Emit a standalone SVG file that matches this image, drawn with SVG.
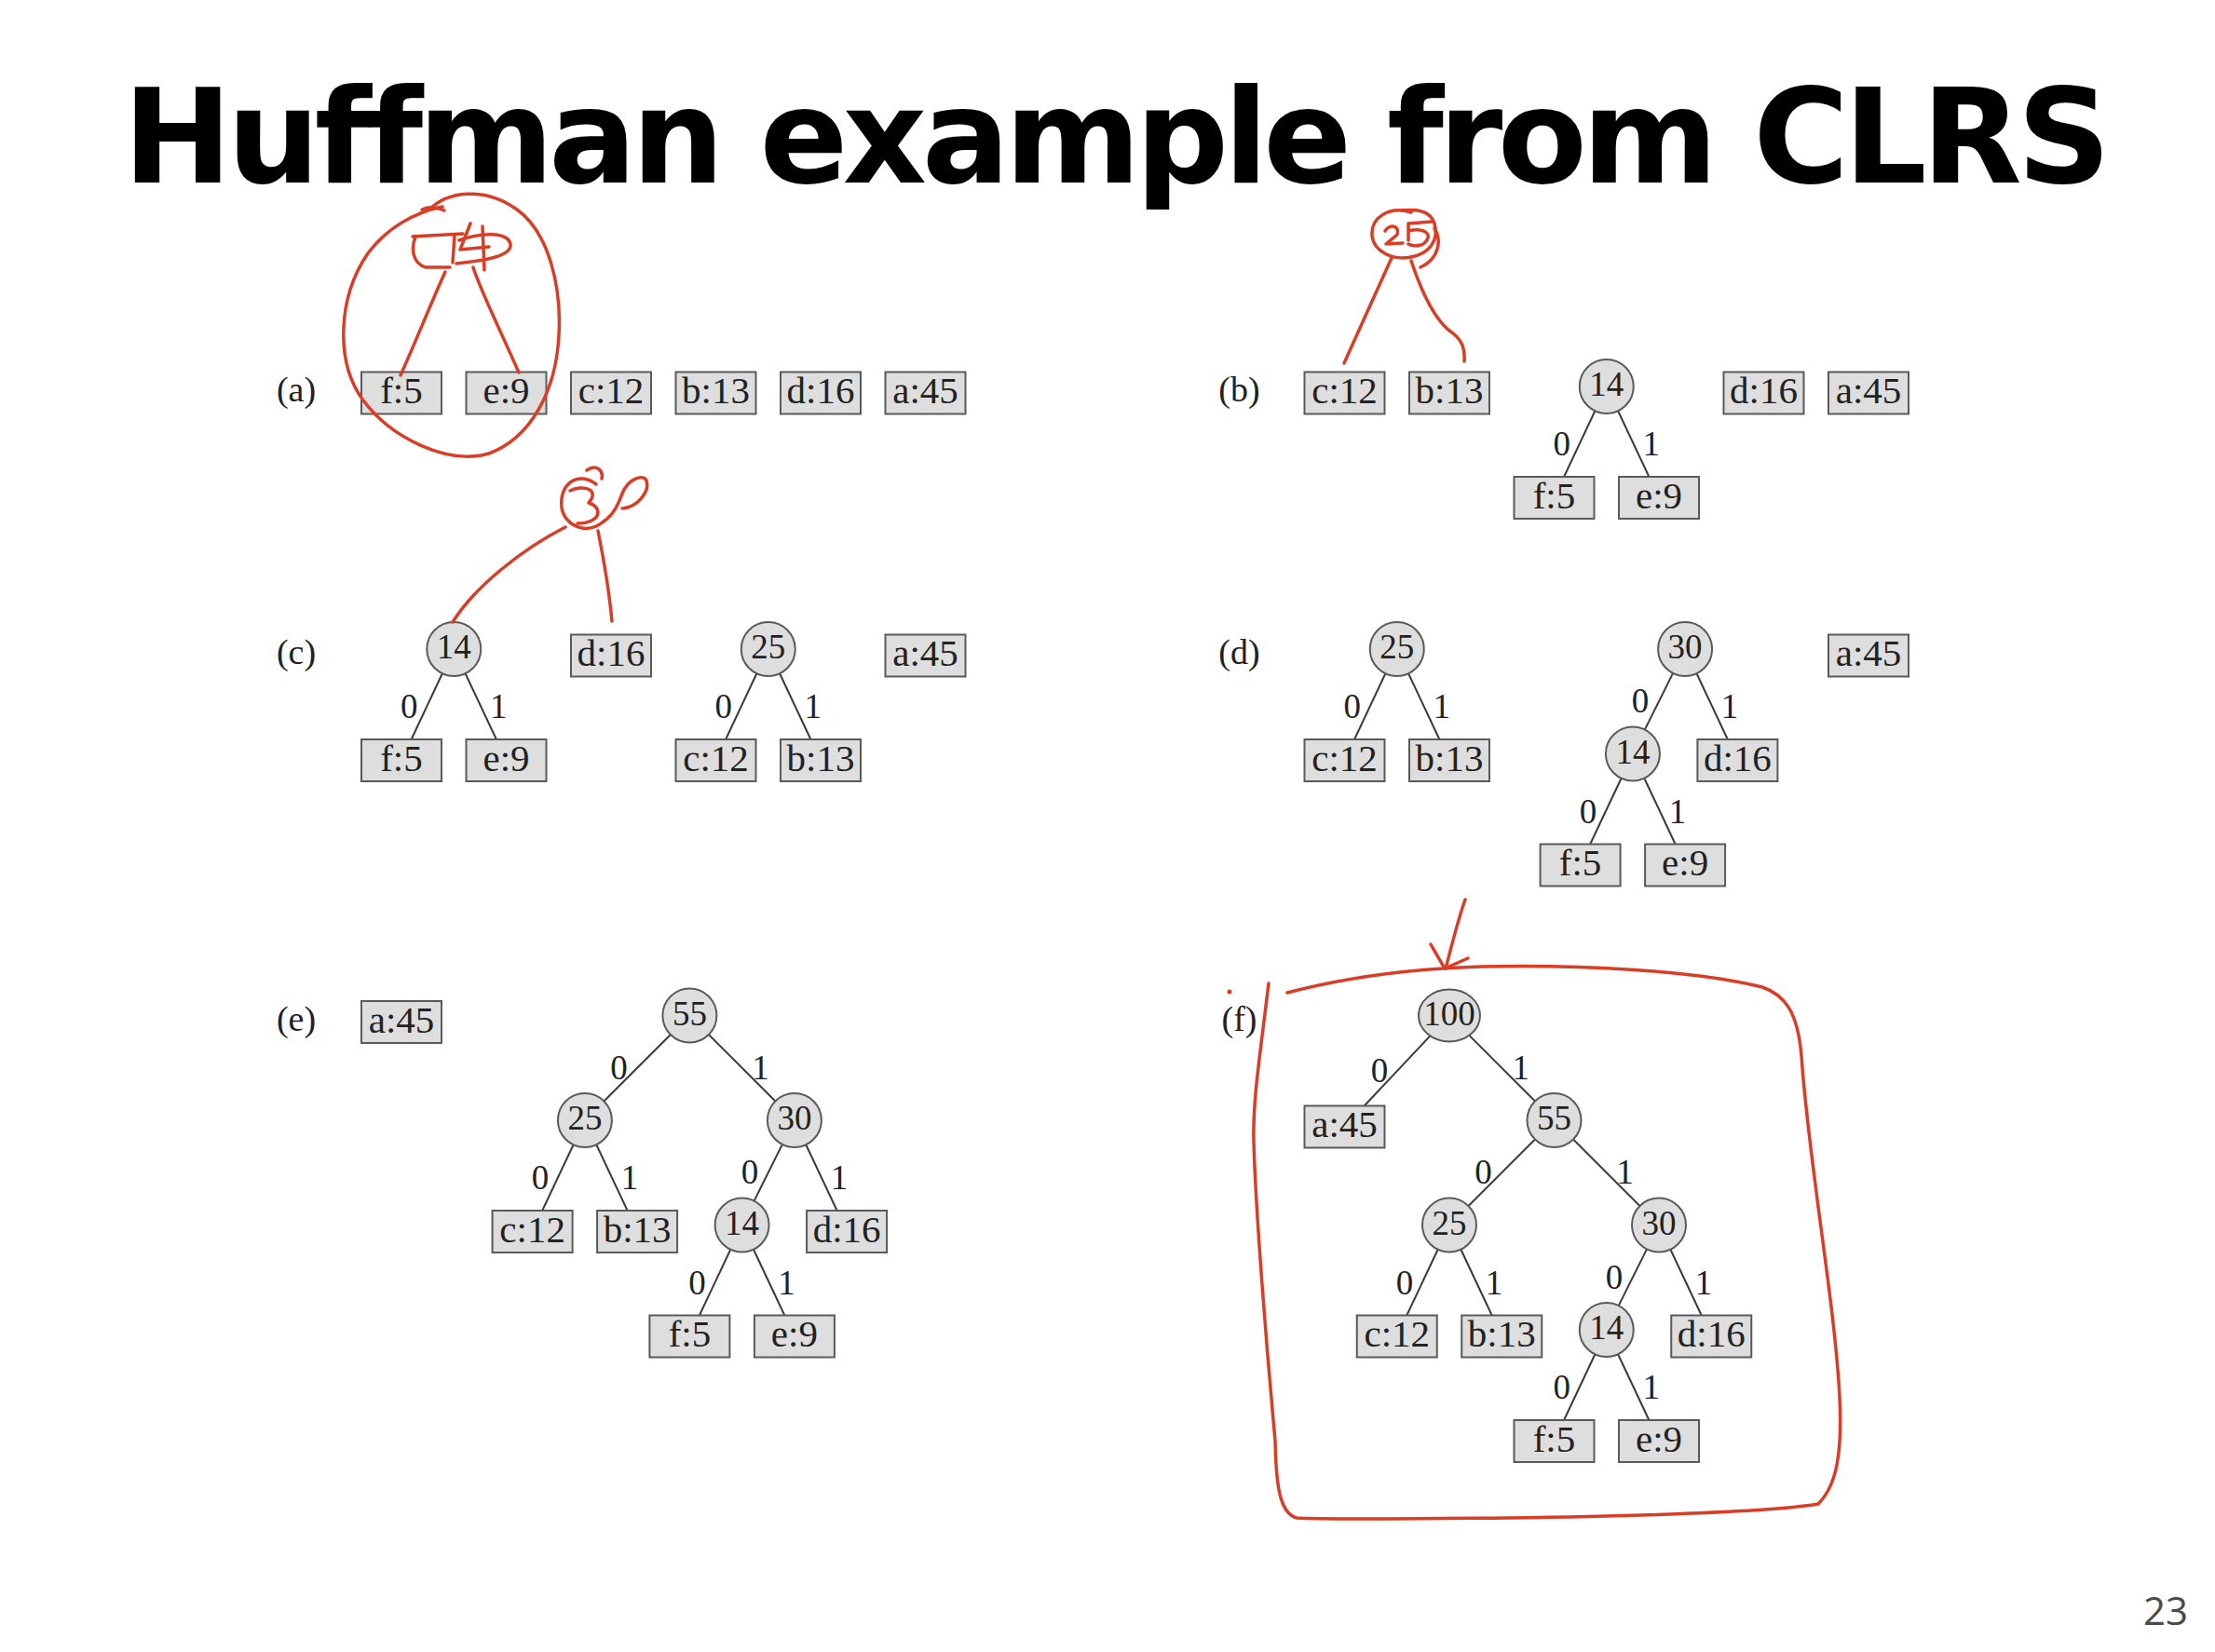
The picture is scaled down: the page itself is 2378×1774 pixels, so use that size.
<svg xmlns="http://www.w3.org/2000/svg" width="2378" height="1774" viewBox="0 0 2378 1774">
<style>
.box{fill:#dedede;stroke:#5a5a5a;stroke-width:2}
.circ{fill:#dedede;stroke:#5a5a5a;stroke-width:2}
.bt{font-family:"Liberation Serif","Times New Roman",serif;font-size:41px;fill:#222;text-anchor:middle}
.ct{font-family:"Liberation Serif","Times New Roman",serif;font-size:37px;fill:#222;text-anchor:middle}
.bit{font-family:"Liberation Serif","Times New Roman",serif;font-size:37px;fill:#222;text-anchor:middle}
.pl{font-family:"Liberation Serif","Times New Roman",serif;font-size:38px;fill:#222;text-anchor:middle}
.edge line{stroke:#3a3a3a;stroke-width:2}
.ink{fill:none;stroke:#da3d25;stroke-width:3.5;stroke-linecap:round;stroke-linejoin:round}
.title{font-family:"DejaVu Sans",Verdana,sans-serif;font-weight:bold;font-size:140px;letter-spacing:-5.5px;fill:#000;font-variant-ligatures:none;font-feature-settings:"liga" 0}
</style>
<rect width="2378" height="1774" fill="#fff"/>
<text class="title" x="132" y="196">Huffman example from CLRS</text>
<text x="2349" y="1745" font-family="'Open Sans','DejaVu Sans',sans-serif" font-size="42" fill="#4a4a4a" text-anchor="end">23</text>

<g id="panel-labels">
<text class="pl" x="318" y="431">(a)</text>
<text class="pl" x="1330.5" y="431">(b)</text>
<text class="pl" x="318" y="713">(c)</text>
<text class="pl" x="1330.5" y="713">(d)</text>
<text class="pl" x="318" y="1106.5">(e)</text>
<text class="pl" x="1330.5" y="1106.5">(f)</text>
</g>

<g id="connectors" class="edge">
<line x1="1712.4" y1="441.2" x2="1679.1" y2="512"/>
<line x1="1737.1" y1="441.2" x2="1770.4" y2="512"/>
<line x1="474.9" y1="723.2" x2="441.6" y2="794"/>
<line x1="499.6" y1="723.2" x2="532.9" y2="794"/>
<line x1="812.4" y1="723.2" x2="779.1" y2="794"/>
<line x1="837.1" y1="723.2" x2="870.4" y2="794"/>
<line x1="1487.4" y1="723.2" x2="1454.1" y2="794"/>
<line x1="1512.1" y1="723.2" x2="1545.4" y2="794"/>
<line x1="1796.1" y1="722.9" x2="1765.8" y2="783.6"/>
<line x1="1821.5" y1="723.2" x2="1854.8" y2="794"/>
<line x1="1740.6" y1="835.7" x2="1707.2" y2="906.5"/>
<line x1="1765.3" y1="835.7" x2="1798.6" y2="906.5"/>
<line x1="719.9" y1="1111" x2="648.4" y2="1182.5"/>
<line x1="760.9" y1="1111" x2="832.4" y2="1182.5"/>
<line x1="615.6" y1="1229.2" x2="582.2" y2="1300"/>
<line x1="640.3" y1="1229.2" x2="673.6" y2="1300"/>
<line x1="839.9" y1="1228.9" x2="809.6" y2="1289.6"/>
<line x1="865.3" y1="1229.2" x2="898.6" y2="1300"/>
<line x1="784.3" y1="1341.7" x2="750.9" y2="1412.5"/>
<line x1="809" y1="1341.7" x2="842.3" y2="1412.5"/>
<line x1="1535.4" y1="1112.4" x2="1464.7" y2="1187.5"/>
<line x1="1577.4" y1="1111.9" x2="1648" y2="1182.5"/>
<line x1="1648" y1="1223.5" x2="1576.5" y2="1295"/>
<line x1="1689" y1="1223.5" x2="1760.5" y2="1295"/>
<line x1="1543.7" y1="1341.7" x2="1510.3" y2="1412.5"/>
<line x1="1568.4" y1="1341.7" x2="1601.7" y2="1412.5"/>
<line x1="1768" y1="1341.4" x2="1737.7" y2="1402.1"/>
<line x1="1793.4" y1="1341.7" x2="1826.7" y2="1412.5"/>
<line x1="1712.4" y1="1454.2" x2="1679.1" y2="1525"/>
<line x1="1737.1" y1="1454.2" x2="1770.4" y2="1525"/>
</g>

<g id="edge-labels">
<text class="bit" x="1676.8" y="489">0</text><text class="bit" x="1772.8" y="489">1</text>
<text class="bit" x="439.3" y="771">0</text><text class="bit" x="535.3" y="771">1</text>
<text class="bit" x="776.8" y="771">0</text><text class="bit" x="872.8" y="771">1</text>
<text class="bit" x="1451.8" y="771">0</text><text class="bit" x="1547.8" y="771">1</text>
<text class="bit" x="1761.1" y="765">0</text><text class="bit" x="1857.1" y="771">1</text>
<text class="bit" x="1704.9" y="883.5">0</text><text class="bit" x="1800.9" y="883.5">1</text>
<text class="bit" x="664.4" y="1158.5">0</text><text class="bit" x="816.4" y="1158.5">1</text>
<text class="bit" x="579.9" y="1277">0</text><text class="bit" x="675.9" y="1277">1</text>
<text class="bit" x="804.9" y="1271">0</text><text class="bit" x="900.9" y="1277">1</text>
<text class="bit" x="748.6" y="1389.5">0</text><text class="bit" x="844.6" y="1389.5">1</text>
<text class="bit" x="1481" y="1162">0</text><text class="bit" x="1632.7" y="1159">1</text>
<text class="bit" x="1592.5" y="1271">0</text><text class="bit" x="1744.5" y="1271">1</text>
<text class="bit" x="1508" y="1389.5">0</text><text class="bit" x="1604" y="1389.5">1</text>
<text class="bit" x="1733" y="1383.5">0</text><text class="bit" x="1829" y="1389.5">1</text>
<text class="bit" x="1676.8" y="1502">0</text><text class="bit" x="1772.8" y="1502">1</text>
</g>

<g id="a-f5"><rect class="box" x="388" y="399.5" width="86" height="45"/><text class="bt" x="431" y="433">f:5</text></g>
<g id="a-e9"><rect class="box" x="500.5" y="399.5" width="86" height="45"/><text class="bt" x="543.5" y="433">e:9</text></g>
<g id="a-c12"><rect class="box" x="613" y="399.5" width="86" height="45"/><text class="bt" x="656" y="433">c:12</text></g>
<g id="a-b13"><rect class="box" x="725.5" y="399.5" width="86" height="45"/><text class="bt" x="768.5" y="433">b:13</text></g>
<g id="a-d16"><rect class="box" x="838" y="399.5" width="86" height="45"/><text class="bt" x="881" y="433">d:16</text></g>
<g id="a-a45"><rect class="box" x="950.5" y="399.5" width="86" height="45"/><text class="bt" x="993.5" y="433">a:45</text></g>

<g id="b-c12"><rect class="box" x="1400.5" y="399.5" width="86" height="45"/><text class="bt" x="1443.5" y="433">c:12</text></g>
<g id="b-b13"><rect class="box" x="1513" y="399.5" width="86" height="45"/><text class="bt" x="1556" y="433">b:13</text></g>
<g id="b-n14"><circle class="circ" cx="1724.75" cy="415" r="29"/><text class="ct" x="1724.75" y="425">14</text></g>
<g id="b-d16"><rect class="box" x="1850.5" y="399.5" width="86" height="45"/><text class="bt" x="1893.5" y="433">d:16</text></g>
<g id="b-a45"><rect class="box" x="1963" y="399.5" width="86" height="45"/><text class="bt" x="2006" y="433">a:45</text></g>
<g id="b-f5"><rect class="box" x="1625.5" y="512" width="86" height="45"/><text class="bt" x="1668.5" y="545.5">f:5</text></g>
<g id="b-e9"><rect class="box" x="1738" y="512" width="86" height="45"/><text class="bt" x="1781" y="545.5">e:9</text></g>

<g id="c-n14"><circle class="circ" cx="487.25" cy="697" r="29"/><text class="ct" x="487.25" y="707">14</text></g>
<g id="c-f5"><rect class="box" x="388" y="794" width="86" height="45"/><text class="bt" x="431" y="827.5">f:5</text></g>
<g id="c-e9"><rect class="box" x="500.5" y="794" width="86" height="45"/><text class="bt" x="543.5" y="827.5">e:9</text></g>
<g id="c-d16"><rect class="box" x="613" y="681.5" width="86" height="45"/><text class="bt" x="656" y="715">d:16</text></g>
<g id="c-n25"><circle class="circ" cx="824.75" cy="697" r="29"/><text class="ct" x="824.75" y="707">25</text></g>
<g id="c-c12"><rect class="box" x="725.5" y="794" width="86" height="45"/><text class="bt" x="768.5" y="827.5">c:12</text></g>
<g id="c-b13"><rect class="box" x="838" y="794" width="86" height="45"/><text class="bt" x="881" y="827.5">b:13</text></g>
<g id="c-a45"><rect class="box" x="950.5" y="681.5" width="86" height="45"/><text class="bt" x="993.5" y="715">a:45</text></g>

<g id="d-n25"><circle class="circ" cx="1499.75" cy="697" r="29"/><text class="ct" x="1499.75" y="707">25</text></g>
<g id="d-c12"><rect class="box" x="1400.5" y="794" width="86" height="45"/><text class="bt" x="1443.5" y="827.5">c:12</text></g>
<g id="d-b13"><rect class="box" x="1513" y="794" width="86" height="45"/><text class="bt" x="1556" y="827.5">b:13</text></g>
<g id="d-n30"><circle class="circ" cx="1809.1" cy="697" r="29"/><text class="ct" x="1809.1" y="707">30</text></g>
<g id="d-n14"><circle class="circ" cx="1752.9" cy="809.5" r="29"/><text class="ct" x="1752.9" y="819.5">14</text></g>
<g id="d-d16"><rect class="box" x="1822.4" y="794" width="86" height="45"/><text class="bt" x="1865.4" y="827.5">d:16</text></g>
<g id="d-f5"><rect class="box" x="1653.6" y="906.5" width="86" height="45"/><text class="bt" x="1696.6" y="940">f:5</text></g>
<g id="d-e9"><rect class="box" x="1766.1" y="906.5" width="86" height="45"/><text class="bt" x="1809.1" y="940">e:9</text></g>
<g id="d-a45"><rect class="box" x="1963" y="681.5" width="86" height="45"/><text class="bt" x="2006" y="715">a:45</text></g>

<g id="e-a45"><rect class="box" x="388" y="1075" width="86" height="45"/><text class="bt" x="431" y="1108.5">a:45</text></g>
<g id="e-n55"><circle class="circ" cx="740.4" cy="1090.5" r="29"/><text class="ct" x="740.4" y="1100.5">55</text></g>
<g id="e-n25"><circle class="circ" cx="627.9" cy="1203" r="29"/><text class="ct" x="627.9" y="1213">25</text></g>
<g id="e-n30"><circle class="circ" cx="852.9" cy="1203" r="29"/><text class="ct" x="852.9" y="1213">30</text></g>
<g id="e-c12"><rect class="box" x="528.6" y="1300" width="86" height="45"/><text class="bt" x="571.6" y="1333.5">c:12</text></g>
<g id="e-b13"><rect class="box" x="641.1" y="1300" width="86" height="45"/><text class="bt" x="684.1" y="1333.5">b:13</text></g>
<g id="e-n14"><circle class="circ" cx="796.6" cy="1315.5" r="29"/><text class="ct" x="796.6" y="1325.5">14</text></g>
<g id="e-d16"><rect class="box" x="866.1" y="1300" width="86" height="45"/><text class="bt" x="909.1" y="1333.5">d:16</text></g>
<g id="e-f5"><rect class="box" x="697.4" y="1412.5" width="86" height="45"/><text class="bt" x="740.4" y="1446">f:5</text></g>
<g id="e-e9"><rect class="box" x="809.9" y="1412.5" width="86" height="45"/><text class="bt" x="852.9" y="1446">e:9</text></g>

<g id="f-n100"><ellipse class="circ" cx="1556" cy="1090.5" rx="33" ry="28"/><text class="ct" x="1556" y="1100.5">100</text></g>
<g id="f-a45"><rect class="box" x="1400.5" y="1187.5" width="86" height="45"/><text class="bt" x="1443.5" y="1221">a:45</text></g>
<g id="f-n55"><circle class="circ" cx="1668.5" cy="1203" r="29"/><text class="ct" x="1668.5" y="1213">55</text></g>
<g id="f-n25"><circle class="circ" cx="1556" cy="1315.5" r="29"/><text class="ct" x="1556" y="1325.5">25</text></g>
<g id="f-n30"><circle class="circ" cx="1781" cy="1315.5" r="29"/><text class="ct" x="1781" y="1325.5">30</text></g>
<g id="f-c12"><rect class="box" x="1456.75" y="1412.5" width="86" height="45"/><text class="bt" x="1499.75" y="1446">c:12</text></g>
<g id="f-b13"><rect class="box" x="1569.25" y="1412.5" width="86" height="45"/><text class="bt" x="1612.25" y="1446">b:13</text></g>
<g id="f-n14"><circle class="circ" cx="1724.75" cy="1428" r="29"/><text class="ct" x="1724.75" y="1438">14</text></g>
<g id="f-d16"><rect class="box" x="1794.25" y="1412.5" width="86" height="45"/><text class="bt" x="1837.25" y="1446">d:16</text></g>
<g id="f-f5"><rect class="box" x="1625.5" y="1525" width="86" height="45"/><text class="bt" x="1668.5" y="1558.5">f:5</text></g>
<g id="f-e9"><rect class="box" x="1738" y="1525" width="86" height="45"/><text class="bt" x="1781" y="1558.5">e:9</text></g>

<g id="ink" class="ink">
<path d="M460 226 C480 205,520 200,555 225 C590 250,603 310,600 360 C597 420,570 470,525 487 C480 500,420 470,390 430 C360 390,362 320,395 272 C415 245,445 228,475 222"/>
<path d="M453 225 C460 222,468 222,477 226"/>
<path d="M446 254 C441 267,443 283,457 287 L483 287"/>
<path d="M443 254 L497 251 M488 253 L486 282"/>
<path d="M505 240 L494 268 L525 265 M518 243 L520 290"/>
<path d="M493 258 C515 250,545 248,548 262 C550 275,520 280,490 283"/>
<path d="M478 292 C465 320,445 370,430 403"/>
<path d="M508 287 C515 310,535 350,557 400"/>

<path d="M1515 228 C1490 220,1472 235,1473 252 C1474 270,1495 280,1515 276 C1535 272,1545 258,1540 240 C1536 228,1525 224,1505 226"/>
<path d="M1487 248 C1492 240,1503 242,1500 252 L1488 262 L1506 261"/>
<path d="M1512 258 L1512 240 L1538 238 M1512 248 C1530 244,1540 252,1528 262 C1522 265,1515 264,1512 262"/>
<path d="M1540 245 C1548 258,1545 278,1525 287"/>
<path d="M1494 277 L1443 390"/>
<path d="M1515 280 C1525 310,1540 345,1560 358 C1570 366,1573 375,1572 388"/>

<path d="M640 520 C620 505,600 520,603 545 C606 565,630 575,648 560"/>
<path d="M612 527 C625 520,645 525,632 540 C648 545,645 562,620 562"/>
<path d="M630 505 C640 498,648 505,646 514"/>
<path d="M648 560 C660 552,664 540,668 530 C674 515,690 508,694 516 C698 528,684 545,668 546"/>
<path d="M486 668 C510 630,560 590,607 566"/>
<path d="M642 570 C648 600,654 635,657 667"/>

<path d="M1382 1066 C1450 1048,1520 1040,1590 1038 C1700 1036,1820 1042,1892 1060 C1915 1068,1930 1085,1934 1134 C1942 1250,1970 1400,1975 1500 C1978 1560,1972 1595,1952 1615 C1900 1624,1750 1628,1620 1630 C1500 1631,1420 1632,1392 1630 C1375 1625,1370 1600,1369 1547 C1360 1450,1348 1300,1346 1226 C1345 1180,1352 1140,1362 1056"/>
<path d="M1573 966 C1566 985,1560 1010,1552 1040"/>
<path d="M1536 1014 L1551 1040 L1576 1029"/>
<circle cx="1320" cy="1065" r="2.5" fill="#da3d25" stroke="none"/>
</g>
</svg>
